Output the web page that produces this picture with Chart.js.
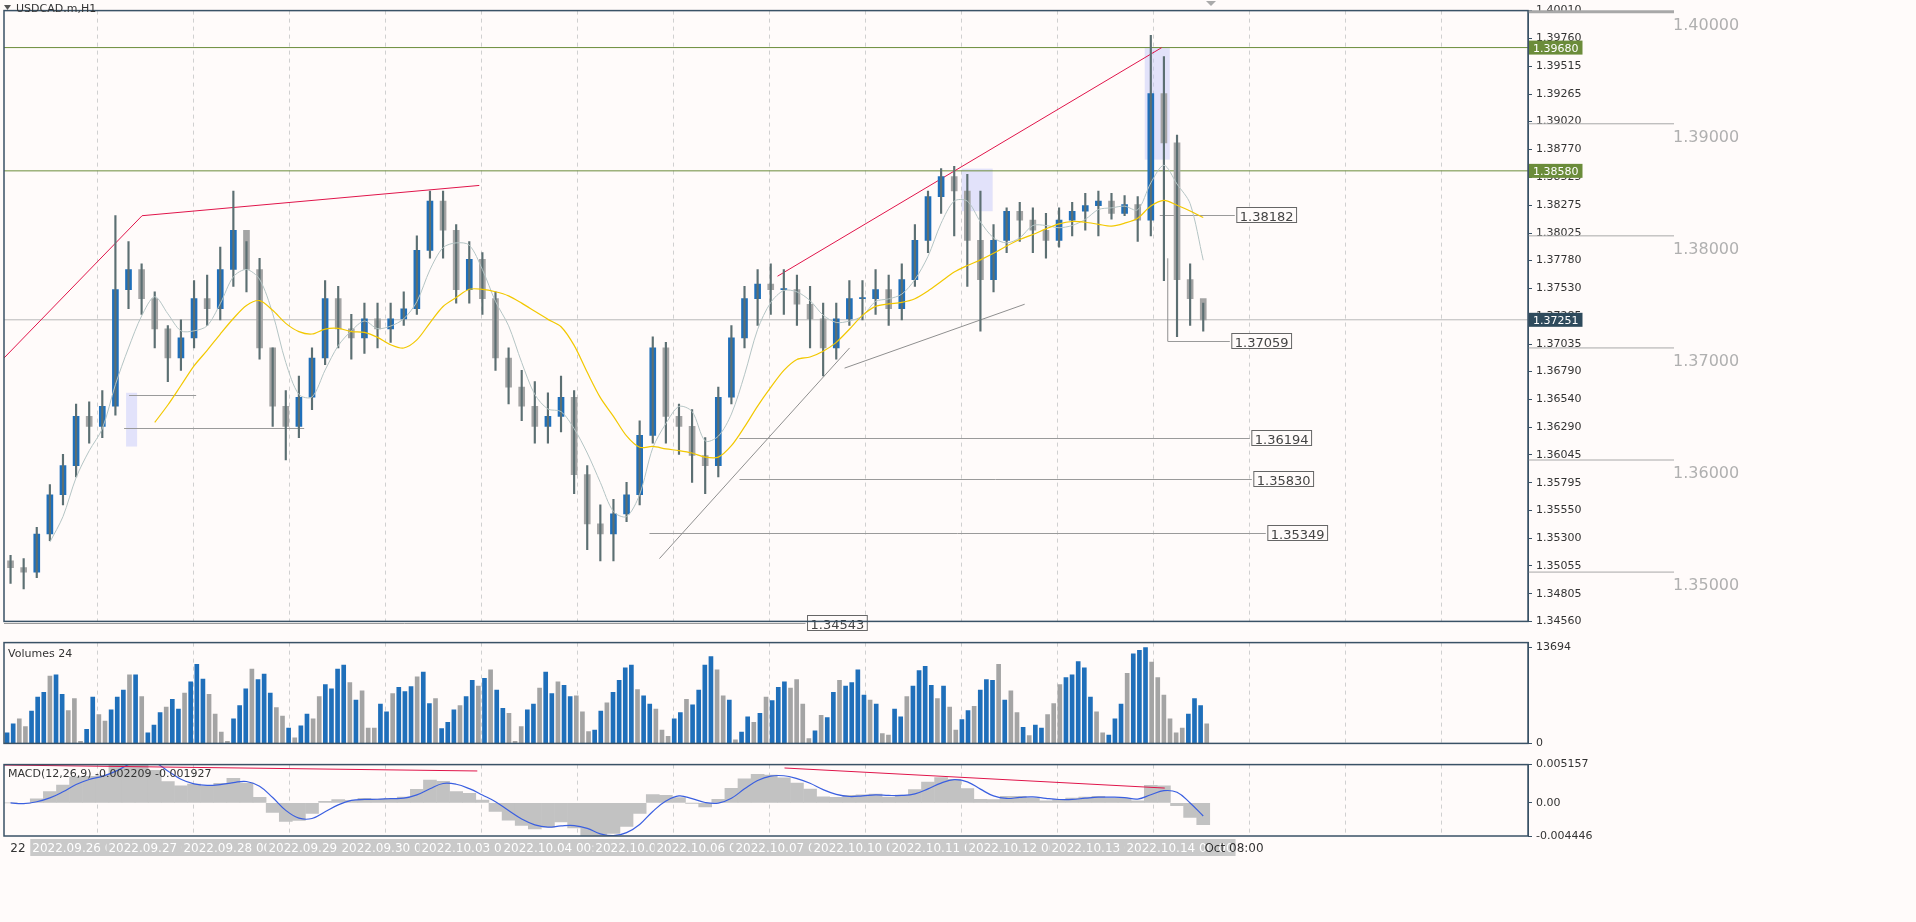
<!DOCTYPE html>
<html>
<head>
<meta charset="utf-8">
<script src="https://cdn.jsdelivr.net/npm/chart.js@4.4.0/dist/chart.umd.min.js"></script>
<style>
  body { margin: 0; background: #fffbfa; overflow: hidden; }
  .pane { position: absolute; left: 0; width: 1916px; }
  #p1 { top: 0; height: 632px; }
  #p2 { top: 632px; height: 122px; }
  #p3 { top: 754px; height: 168px; }
</style>
</head>
<body>
<div class="pane" id="p1"><canvas id="main"></canvas></div>
<div class="pane" id="p2"><canvas id="vol"></canvas></div>
<div class="pane" id="p3"><canvas id="macd"></canvas></div>
<script>
// prices are stored as pips above 1.3400 (price = 1.34 + v / 10000)
const closes = [104,100,134,169,195,239,230,248,352,370,344,317,291,309,344,335,370,405,370,300,
  248,230,256,291,344,317,309,326,317,326,335,387,431,405,352,379,344,291,265,248,
  230,239,256,187,143,134,152,169,222,300,239,230,204,195,256,309,344,357,352,352,
  339,326,300,326,344,344,352,335,361,396,435,453,440,396,361,396,422,414,405,396,
  414,422,427,431,420,428,414,527,483,361,344,325];
const highs = [115,112,140,178,205,250,252,262,418,395,375,350,320,325,360,365,390,440,395,380,
  300,262,275,300,360,355,330,340,340,340,350,400,440,440,410,395,385,350,300,280,
  270,260,275,262,195,160,165,180,235,310,305,250,245,220,265,320,355,370,375,370,
  365,355,340,340,360,360,370,365,375,410,440,460,462,455,440,410,425,430,425,420,
  425,430,438,440,438,436,435,579,560,490,375,340];
const lows = [90,85,95,128,160,185,215,220,240,335,330,300,270,280,300,320,325,355,350,290,
  230,200,220,245,285,300,290,295,300,305,320,330,380,380,340,340,330,280,250,235,
  215,215,225,170,120,110,110,145,160,215,215,205,180,170,185,250,300,320,330,330,
  320,300,275,290,320,325,330,320,325,355,385,420,400,355,315,350,385,395,385,380,
  390,400,405,400,415,418,395,400,360,310,320,315];
const firstOpen = 110;

const volumes = [
  1500,2800,3500,2400,4600,6600,7300,9600,9800,7000,4700,6400,
  300,2000,6600,4100,3200,4800,6600,7600,9800,9800,6700,1500,
  2600,4400,5200,6300,4900,7200,8800,11300,9200,7000,4200,1600,
  300,3500,5400,7800,10600,9100,9900,7200,5100,3900,2200,800,
  2500,4200,3500,6700,8400,7800,10600,11200,8700,6200,7500,2200,
  2200,5600,4500,7100,8000,7400,8100,9500,10200,5700,6400,2100,
  3000,4800,5400,6700,9000,8200,9300,10500,7600,5000,4300,300,
  2400,4800,5600,7900,10200,7100,8800,8300,6700,6800,4500,1700,
  1900,4600,5800,7300,9000,10800,11200,7700,6800,5600,4900,1900,
  1000,3500,4400,6300,5500,7600,11200,12400,10500,6800,6200,500,
  1600,3800,3000,4300,6600,6100,8000,8800,7900,9100,5600,700,
  1800,4000,3700,7300,9000,8200,8700,10500,6900,6200,5600,1400,
  1200,4900,3800,6700,8200,10400,11000,8300,6400,8200,5200,1900,
  3400,4700,5300,7600,9100,9000,11300,6200,7500,4400,2300,1100,
  2600,2200,4100,5700,8400,9400,9800,11700,10800,6600,4500,1500,
  1200,3500,5600,10000,12800,13300,13694,11600,9400,6900,3500,1500,
  2200,4200,6400,5400,2800];
const volUp = "110011101100" + "011001110101" + "110110111000" + "011101110010" +
  "110011110100" + "011011101101" + "110110101100" + "011011011000" +
  "110111101100" + "011011110010" + "110101110000" + "101101111010" +
  "011011110100" + "110111010010" + "110001111100" + "111011100000" + "01110";

const priceTicks = [1.40010,1.39760,1.39515,1.39265,1.39020,1.38770,1.38525,1.38275,1.38025,1.37780,
  1.37530,1.37285,1.37035,1.36790,1.36540,1.36290,1.36045,1.35795,1.35550,1.35300,1.35055,1.34805,1.34560];
const roundLevels = [1.40000,1.39000,1.38000,1.37000,1.36000,1.35000];
const greenLevels = [1.39680,1.38580];
const lastPrice = 1.37251;
const volTicks = [0,13694];
const macdTicks = [0.005157,0,-0.004446];
const macdLabel = "MACD(12,26,9) -0.002209 -0.001927";

const dateLabels = ["22","2022.09.26 00:0","Se","2022.09.27 00:00","2022.09.28 00:00","2022.09.29 00:00",
  "2022.09.30 00:00","Se","2022.10.03 00:00","2022.10.04 00:00","Oct","2022.10.05 00:0","2022.10.06 00:00",
  "Oct","2022.10.07 00:00","2022.10.10 00:00","Oct","2022.10.11 00:00","2022.10.12 00:00","Oc",
  "2022.10.13 00:00","2022.10.14 00:00","Oct 08:00"];
const dateX = [18,82,118,162,237,322,395,433,475,557,612,645,710,744,789,867,907,945,1022,1062,1105,1180,1234];

// ---- derived series
const P = v => 1.34 + v / 10000;
const opens = closes.map((c, i) => i === 0 ? firstOpen : closes[i - 1]);
const N = closes.length;
const STEP = 1205 / N;               // pixels per bar
const XMAX = 1523 / STEP - 0.5;
const ix = px => (px - 5) / STEP - 0.5;

function sma(arr, n) {
  return arr.map((v, i) => i < n - 1 ? null : arr.slice(i - n + 1, i + 1).reduce((a, b) => a + b, 0) / n);
}
function ema(arr, n) {
  const k = 2 / (n + 1); let prev = arr[0];
  return arr.map(v => (prev = prev + k * (v - prev)));
}
const cp = closes.map(P);
const maFast = sma(cp, 4);
const maSlow = sma(cp, 12);
const e1 = ema(cp, 4), e2 = ema(cp, 9);
const macdMain = e1.map((v, i) => v - e2[i]);
const macdSig = sma(macdMain, 3).map((v, i) => v === null ? macdMain[i] : v);

const BLUE = '#1f6fba', GREY = '#a4a4a4', WICK = '#5c6f72', FRAME = '#3a5266';
const FONT = '11px "DejaVu Sans", Tahoma, sans-serif';
Chart.defaults.font.family = '"DejaVu Sans", sans-serif';
Chart.defaults.font.size = 11;
Chart.defaults.color = '#333';
Chart.defaults.animation = false;

const xAxis = () => ({
  type: 'linear', min: -0.5, max: XMAX, display: true, offset: false,
  afterBuildTicks: ax => {
    const t = []; for (let px = 98; px < 1528; px += 96) t.push({ value: ix(px) });
    ax.ticks = t;
  },
  ticks: { display: false },
  border: { display: false, dash: [4, 4] },
  grid: { color: '#d0d0d0', lineWidth: 1, drawTicks: false, offset: false }
});
const yAxis = (min, max, ticks, fmt) => ({
  position: 'right', min, max,
  afterBuildTicks: ax => { ax.ticks = ticks.map(v => ({ value: v })); },
  afterFit: ax => { ax.width = 388; },
  ticks: { callback: fmt, padding: 4, color: '#333', font: { size: 11 }, autoSkip: false },
  grid: { drawOnChartArea: false, tickLength: 4, color: FRAME },
  border: { color: FRAME }
});

function frame(chart) {
  const a = chart.chartArea, c = chart.ctx;
  c.save(); c.strokeStyle = FRAME; c.lineWidth = 1.5;
  c.strokeRect(a.left, a.top, a.right - a.left, a.bottom - a.top); c.restore();
}

const mainOverlay = {
  id: 'mainOverlay',
  beforeDatasetsDraw(chart) {
    const x = chart.scales.x, y = chart.scales.y, c = chart.ctx, a = chart.chartArea;
    c.save();
    c.fillStyle = 'rgba(190,195,250,0.45)';
    [[127, 138, 1.3660, 1.3612], [962, 993, 1.3860, 1.3822], [1145, 1170, 1.3968, 1.3868]].forEach(r => {
      const x0 = x.getPixelForValue(ix(r[0])), x1 = x.getPixelForValue(ix(r[1]));
      c.fillRect(x0, y.getPixelForValue(r[2]), x1 - x0, y.getPixelForValue(r[3]) - y.getPixelForValue(r[2]));
    });
    c.font = '16px "DejaVu Sans", sans-serif';
    roundLevels.forEach(v => {
      const py = y.getPixelForValue(v);
      c.strokeStyle = '#a8a8a8'; c.lineWidth = v === 1.4 ? 3 : 1;
      c.beginPath(); c.moveTo(1674, py); c.lineTo(a.right, py); c.stroke();
      c.fillStyle = '#b0b0b0'; c.fillText(v.toFixed(5), 1673, py + 18);
    });
    c.strokeStyle = '#b8b8b8'; c.lineWidth = 1;
    let py = y.getPixelForValue(lastPrice);
    c.beginPath(); c.moveTo(a.left, py); c.lineTo(a.right, py); c.stroke();
    c.strokeStyle = '#6b8c3a';
    greenLevels.forEach(v => { const q = y.getPixelForValue(v); c.beginPath(); c.moveTo(a.left, q); c.lineTo(a.right, q); c.stroke(); });
    const segs = [[1160, 1235, 1.38182, true], [1168, 1230, 1.37059, true], [740, 1250, 1.36194, true],
      [740, 1252, 1.35830, true], [650, 1266, 1.35349, true], [5, 806, 1.34543, true],
      [130, 197, 1.36580, false], [125, 305, 1.36290, false]];
    c.font = '13px "DejaVu Sans", sans-serif';
    segs.forEach(s => {
      const q = Math.round(y.getPixelForValue(s[2])) + 0.5;
      c.strokeStyle = '#9a9a9a'; c.lineWidth = 1;
      c.beginPath(); c.moveTo(x.getPixelForValue(ix(s[0])), q); c.lineTo(x.getPixelForValue(ix(s[1])), q); c.stroke();
      if (s[3]) {
        const bx = x.getPixelForValue(ix(s[1])) + 2, txt = s[2].toFixed(5), w = c.measureText(txt).width + 6;
        c.fillStyle = '#fffbfa'; c.fillRect(bx, q - 8, w, 15);
        c.strokeStyle = '#666'; c.strokeRect(bx, q - 8, w, 15);
        c.fillStyle = '#444'; c.fillText(txt, bx + 3, q + 5);
      }
    });
    const line = (pts, col) => {
      c.strokeStyle = col; c.lineWidth = 1; c.beginPath();
      pts.forEach((p, k) => { const X = x.getPixelForValue(ix(p[0])), Y = y.getPixelForValue(p[1]); k ? c.lineTo(X, Y) : c.moveTo(X, Y); });
      c.stroke();
    };
    line([[5, 1.3691], [143, 1.3818], [480, 1.3845]], '#e0144a');
    line([[778, 1.3764], [1162, 1.3968]], '#e0144a');
    line([[660, 1.3512], [850, 1.3700]], '#8f8f8f');
    line([[845, 1.3682], [1025, 1.3739]], '#8f8f8f');
    line([[1168, 1.37059], [1168, 1.3780]], '#8f8f8f');
    c.restore();
  },
  afterDraw(chart) {
    const y = chart.scales.y, c = chart.ctx, a = chart.chartArea;
    frame(chart);
    c.save(); c.font = FONT;
    const tag = (v, bg) => {
      const q = y.getPixelForValue(v);
      const w = c.measureText(v.toFixed(5)).width + 8;
      c.fillStyle = bg; c.fillRect(a.right + 1, q - 7, w, 14);
      c.fillStyle = '#fff'; c.fillText(v.toFixed(5), a.right + 5, q + 4);
    };
    greenLevels.forEach(v => tag(v, '#6b8c3a'));
    tag(lastPrice, '#2e4a5c');
    c.fillStyle = '#333'; c.fillText('USDCAD.m,H1', 16, 12);
    c.fillStyle = '#555'; c.beginPath(); c.moveTo(4, 5); c.lineTo(11, 5); c.lineTo(7.5, 10); c.fill();
    c.fillStyle = '#aaa'; c.beginPath(); c.moveTo(1206, 1); c.lineTo(1216, 1); c.lineTo(1211, 6); c.fill();
    c.restore();
  }
};

const idx = closes.map((_, i) => i);
const bodyCol = closes.map((c, i) => c >= opens[i] ? BLUE : GREY);

new Chart(document.getElementById('main'), {
  data: {
    datasets: [
      { type: 'line', data: idx.map(i => ({ x: i, y: maSlow[i] })), borderColor: '#f2c800', borderWidth: 1.2, pointRadius: 0, tension: 0.3 },
      { type: 'line', data: idx.map(i => ({ x: i, y: maFast[i] })), borderColor: '#b4c4c4', borderWidth: 1, pointRadius: 0, tension: 0.3 },
      { type: 'bar', data: idx.map(i => ({ x: i, y: [P(lows[i]), P(highs[i])] })), backgroundColor: WICK, barThickness: 1.5, grouped: false },
      { type: 'bar', data: idx.map(i => ({ x: i, y: [P(Math.min(opens[i], closes[i])), P(Math.max(opens[i], closes[i]) + (opens[i] === closes[i] ? 1 : 0))] })),
        backgroundColor: bodyCol, barThickness: 6, grouped: false }
    ]
  },
  options: {
    responsive: true, maintainAspectRatio: false,
    layout: { padding: { left: 4, top: 4, bottom: 2 } },
    plugins: { legend: { display: false }, tooltip: { enabled: false } },
    scales: { x: xAxis(), y: yAxis(1.3456, 1.4001, priceTicks, v => v.toFixed(5)) }
  },
  plugins: [mainOverlay]
});

const vIdx = volumes.map((_, j) => (j + 0.5) * (N / volumes.length) - 0.5);
new Chart(document.getElementById('vol'), {
  type: 'bar',
  data: { datasets: [{ data: volumes.map((v, j) => ({ x: vIdx[j], y: v })), backgroundColor: volumes.map((_, j) => volUp[j] === '1' ? BLUE : GREY), barThickness: 4 }] },
  options: {
    responsive: true, maintainAspectRatio: false,
    layout: { padding: { left: 4, top: 3, bottom: 2 } },
    plugins: { legend: { display: false }, tooltip: { enabled: false } },
    scales: { x: xAxis(), y: yAxis(0, 14400, volTicks, v => String(v)) }
  },
  plugins: [{ id: 'volFrame', afterDraw(ch) { frame(ch); const c = ch.ctx; c.save(); c.font = FONT; c.fillStyle = '#333'; c.fillText('Volumes 24', 8, ch.chartArea.top + 14); c.restore(); } }]
});

new Chart(document.getElementById('macd'), {
  data: {
    datasets: [
      { type: 'line', data: idx.map(i => ({ x: i, y: macdSig[i] })), borderColor: '#3a5fe0', borderWidth: 1.2, pointRadius: 0, tension: 0.4 },
      { type: 'bar', data: idx.map(i => ({ x: i, y: macdMain[i] })), backgroundColor: '#c2c2c2', barThickness: 13 }
    ]
  },
  options: {
    responsive: true, maintainAspectRatio: false,
    layout: { padding: { left: 4, top: 3, bottom: 86 } },
    plugins: { legend: { display: false }, tooltip: { enabled: false } },
    scales: { x: xAxis(), y: yAxis(-0.004446, 0.005157, macdTicks, v => v === 0 ? '0.00' : v.toFixed(6)) }
  },
  plugins: [{
    id: 'macdOverlay',
    afterDatasetsDraw(ch) {
      const x = ch.scales.x, y = ch.scales.y, c = ch.ctx;
      c.save(); c.strokeStyle = '#e0144a'; c.lineWidth = 1;
      [[[5, 0.0051], [478, 0.0043]], [[785, 0.0047], [1165, 0.0020]]].forEach(s => {
        c.beginPath(); c.moveTo(x.getPixelForValue(ix(s[0][0])), y.getPixelForValue(s[0][1]));
        c.lineTo(x.getPixelForValue(ix(s[1][0])), y.getPixelForValue(s[1][1])); c.stroke();
      });
      c.restore();
    },
    afterDraw(ch) {
      frame(ch);
      const c = ch.ctx, a = ch.chartArea;
      c.save();
      c.fillStyle = '#333'; c.font = FONT; c.fillText(macdLabel, 8, a.top + 12);
      c.font = '12px "DejaVu Sans", sans-serif';
      dateLabels.forEach((t, k) => {
        const w = c.measureText(t).width, boxed = t.length > 10, cx = dateX[k];
        if (boxed) { c.fillStyle = '#c9c9c9'; c.fillRect(cx - w / 2 - 2, a.bottom + 3, w + 4, 17); c.fillStyle = '#fff'; }
        else c.fillStyle = '#333';
        c.fillText(t, cx - w / 2, a.bottom + 16);
      });
      c.restore();
    }
  }]
});
</script>
</body>
</html>
